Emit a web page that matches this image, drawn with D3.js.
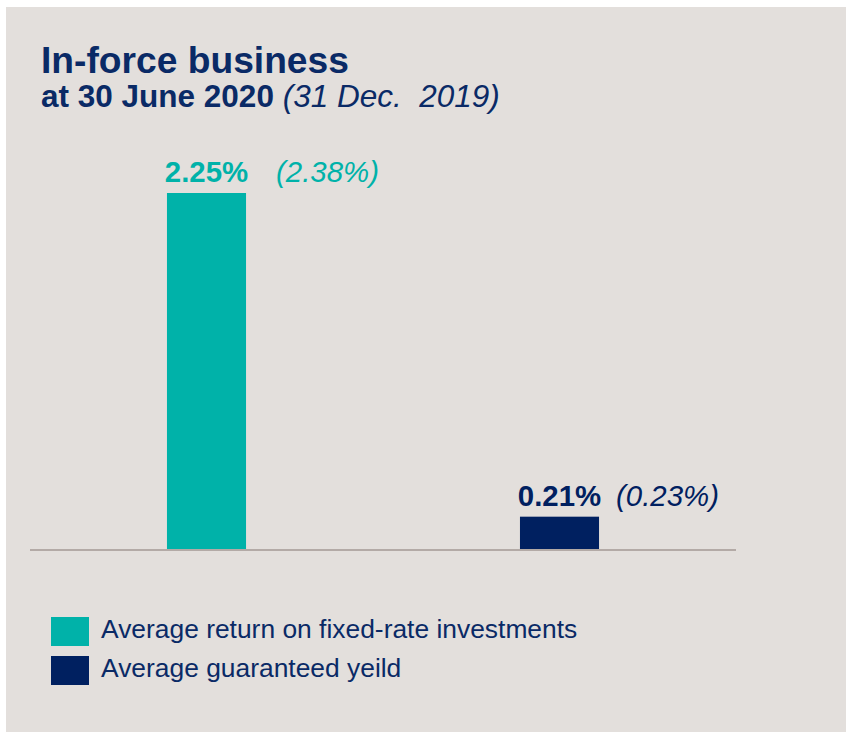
<!DOCTYPE html>
<html>
<head>
<meta charset="utf-8">
<script src="https://cdn.jsdelivr.net/npm/d3@7"></script>
<style>
  html, body { margin: 0; padding: 0; background: #ffffff; }
  svg { display: block; }
  text { font-family: "Liberation Sans", Arial, sans-serif; }
</style>
</head>
<body>
<svg id="chart" width="846" height="733"></svg>
<script>
// ---- data ----
const categories = ["Average return on fixed-rate investments", "Average guaranteed yeild"];
const currentValues = [2.25, 0.21];   // at 30 June 2020
const priorValues = [2.38, 0.23];     // 31 Dec. 2019
const colors = ["#00b2a9", "#002060"];
const titleText = "In-force business";
const subtitleBold = "at 30 June 2020";
const subtitleItalic = "(31 Dec.\u00a0 2019)";

// ---- layout ----
const W = 846, H = 733;
const baseY = 550;
const priorGap = [30, 17];
const navy = "#0a2a66";

const svg = d3.select("#chart");

svg.append("rect").attr("x", 6).attr("y", 7).attr("width", W - 6).attr("height", H - 8)
  .attr("fill", "#e3dfdc");

// titles
svg.append("text").attr("x", 41).attr("y", 73)
  .attr("font-size", 37.2).attr("font-weight", "bold").attr("fill", navy)
  .text(titleText);
const sub = svg.append("text").attr("x", 41).attr("y", 107).attr("font-size", 31.5).attr("fill", navy);
sub.append("tspan").attr("font-weight", "bold").text(subtitleBold + " ");
sub.append("tspan").attr("font-style", "italic").text(subtitleItalic);

// scales
const x = d3.scaleBand().domain(categories).range([30, 736])
  .paddingInner(0.776).paddingOuter(0.388);
const y = d3.scaleLinear().domain([0, 2.25]).range([baseY, 193]);

// bars
svg.selectAll("rect.bar").data(categories).join("rect")
  .attr("class", "bar")
  .attr("x", d => x(d))
  .attr("width", x.bandwidth())
  .attr("y", (d, i) => y(currentValues[i]))
  .attr("height", (d, i) => y(0) - y(currentValues[i]))
  .attr("fill", (d, i) => colors[i]);

// baseline axis
svg.append("line").attr("x1", 30).attr("x2", 736).attr("y1", baseY).attr("y2", baseY)
  .attr("stroke", "#b3aaa6").attr("stroke-width", 2);

// value labels
svg.selectAll("text.val").data(categories).join("text")
  .attr("class", "val")
  .attr("x", d => x(d) + x.bandwidth() / 2)
  .attr("y", (d, i) => y(currentValues[i]) - 11)
  .attr("text-anchor", "middle")
  .attr("font-size", 29.4).attr("font-weight", "bold")
  .attr("fill", (d, i) => colors[i])
  .text((d, i) => d3.format(".2f")(currentValues[i]) + "%");

svg.selectAll("text.prior").data(categories).join("text")
  .attr("class", "prior")
  .attr("x", (d, i) => x(d) + x.bandwidth() + priorGap[i])
  .attr("y", (d, i) => y(currentValues[i]) - 11)
  .attr("font-size", 29.4).attr("font-style", "italic")
  .attr("fill", (d, i) => colors[i])
  .text((d, i) => "(" + d3.format(".2f")(priorValues[i]) + "%)");

// legend
const leg = svg.selectAll("g.leg").data(categories).join("g")
  .attr("class", "leg")
  .attr("transform", (d, i) => `translate(51, ${617 + i * 39})`);
leg.append("rect").attr("width", 38).attr("height", 29).attr("fill", (d, i) => colors[i]);
leg.append("text").attr("x", 50).attr("y", 21)
  .attr("font-size", 26.4).attr("fill", navy).text(d => d);
</script>
</body>
</html>
